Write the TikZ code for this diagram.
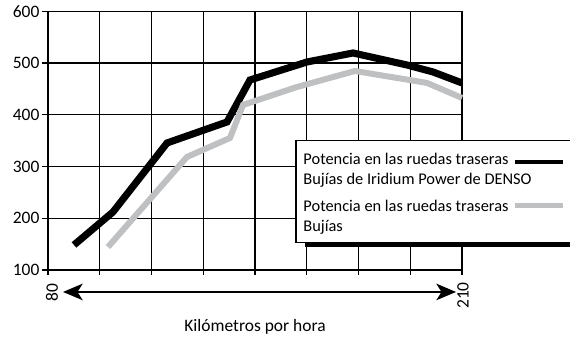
\documentclass[tikz,border=0pt]{standalone}
\usepackage{fontspec}
\setmainfont{Carlito}
\usetikzlibrary{arrows.meta,positioning}
\definecolor{curvegray}{RGB}{190,192,194}
\begin{document}
\begin{tikzpicture}[font=\fontsize{9.6}{11}\selectfont]
            \tikzstyle{grid} = [line width=0.6pt]
            \tikzstyle{denso} = [line width=3.9pt, line join=miter]
            \tikzstyle{standard} = [line width=3.3pt, line join=miter, color=curvegray]
            \tikzstyle{label} = [inner sep=0pt]
            \tikzstyle{legendtext} = [inner sep=0pt, anchor=west, align=left, font=\fontsize{9}{11}\selectfont]
            \tikzstyle{speed} = [line width=0.8pt, {Stealth[length=0.38cm, width=0.32cm, inset=0.1cm]}-{Stealth[length=0.38cm, width=0.32cm, inset=0.1cm]}]
            \useasboundingbox (-0.928, -1.372) rectangle (10.087, 5.217);
            \draw[grid] (0, 0) grid (8, 5);
            \foreach \y/\v in {0/100, 1/200, 2/300, 3/400, 4/500, 5/600} {
                \draw[grid] (-0.12, \y) -- (0, \y);
                \node[label, anchor=east] (power\v) at (-0.16, \y) {\v};
            }
            \foreach \x in {0, ..., 8} {
                \draw[grid] (\x, 0) -- (\x, -0.1);
            }
            \draw[denso] (0.502, 0.483) -- (1.256, 1.121) -- (2.300, 2.454) -- (3.459, 2.860)
                -- (3.903, 3.671) -- (5.005, 4.019) -- (5.894, 4.193) -- (6.937, 3.961)
                -- (7.440, 3.826) -- (8.0, 3.614);
            \draw[standard] (1.159, 0.444) -- (2.686, 2.184) -- (3.517, 2.551) -- (3.768, 3.188)
                -- (4.812, 3.536) -- (5.932, 3.845) -- (7.324, 3.614) -- (8.0, 3.324);
            \fill (4.966, 0.444) rectangle (10.3, 2.4);
            \draw[grid, fill=white] (4.792, 0.522) rectangle (10.2, 2.493);
            \node[legendtext] (densotext) at (4.93, 1.93)
                {Potencia en las ruedas traseras\\Bujías de Iridium Power de DENSO};
            \node[legendtext] (standardtext) at (4.93, 1.024)
                {Potencia en las ruedas traseras\\Bujías};
            \draw[denso, line width=2.7pt] (9.02, 2.087) -- (9.95, 2.087);
            \draw[standard, line width=2.7pt] (9.02, 1.237) -- (9.95, 1.237);
            \coordinate (slow) at (0.29, -0.425);
            \coordinate (fast) at (7.884, -0.425);
            \draw[speed] (slow) -- (fast);
            \node[label, rotate=90, anchor=east] (speed80) at (0.077, -0.26) {80};
            \node[label, rotate=90, anchor=east] (speed210) at (8.02, -0.23) {210};
            \node[label] (speedtitle) at (4.0, -1.10) {Kilómetros por hora};
        \end{tikzpicture}
\end{document}
